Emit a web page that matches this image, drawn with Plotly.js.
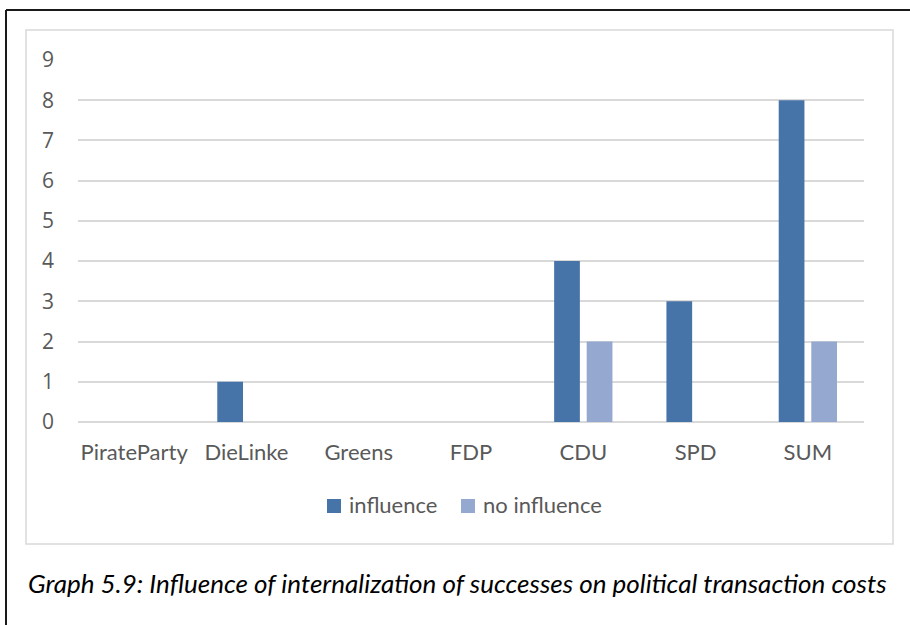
<!DOCTYPE html>
<html>
<head>
<meta charset="utf-8">
<script src="https://cdn.plot.ly/plotly-3.0.1.min.js"></script>
<style>html,body{margin:0;padding:0;background:#fff;}#chart{width:910px;height:625px;}</style>
</head>
<body>
<div id="chart"></div>
<script>
const categories = ["PirateParty", "DieLinke", "Greens", "FDP", "CDU", "SPD", "SUM"];
const influence = [0, 1, 0, 0, 4, 3, 8];
const noInfluence = [0, 0, 0, 0, 2, 0, 2];
const yTicks = [0, 1, 2, 3, 4, 5, 6, 7, 8, 9];
const seriesNames = ["influence", "no influence"];
const seriesColors = ["#4673a8", "#95a9d0"];
const caption = "Graph 5.9: Influence of internalization of successes on political transaction costs";

const W = 910, H = 625;
const L = 78, R = 864, T = 60, B = 422;
const px = x => (x - L) / (R - L);
const py = y => (B - y) / (B - T);
const FONT = "Lato, 'Open Sans', sans-serif";
const DIGITFONT = "'Open Sans', sans-serif";
const GRAY = "#595959";

const traces = [
  {type: "bar", name: seriesNames[0], x: categories, y: influence, marker: {color: seriesColors[0]}},
  {type: "bar", name: seriesNames[1], x: categories, y: noInfluence, marker: {color: seriesColors[1]}}
];

// manual legend (pixel positions of legend items)
const legendItems = [{sx: 327, tx: 347}, {sx: 461, tx: 481}];
const legendY = 505;
const legendShapes = legendItems.map((it, i) => ({
  type: "rect", xref: "paper", yref: "paper",
  x0: px(it.sx), x1: px(it.sx + 14), y0: py(legendY - 6), y1: py(legendY + 8),
  line: {width: 0}, fillcolor: seriesColors[i]
}));
const legendAnns = legendItems.map((it, i) => ({
  xref: "paper", yref: "paper", x: px(it.tx), y: py(legendY), xanchor: "left", yanchor: "middle",
  showarrow: false, text: seriesNames[i], font: {family: FONT, size: 22, color: GRAY}
}));

const layout = {
  width: W, height: H,
  margin: {l: L, r: W - R, t: T, b: H - B, pad: 0},
  paper_bgcolor: "#fff", plot_bgcolor: "#fff",
  barmode: "group", bargap: 0.42, bargroupgap: 0.21,
  font: {family: FONT, size: 22, color: GRAY},
  showlegend: false,
  xaxis: {type: "category", showgrid: false, zeroline: false, showline: false, ticks: "",
          ticklabelstandoff: 15, tickfont: {family: FONT, size: 22, color: GRAY}},
  yaxis: {range: [0, 9], tickvals: yTicks, ticktext: yTicks.map(String), showgrid: true,
          gridcolor: "#d9d9d9", gridwidth: 2, zeroline: true, zerolinecolor: "#d9d9d9", zerolinewidth: 2,
          showline: false, ticks: "", ticklabelstandoff: 23,
          tickfont: {family: DIGITFONT, size: 21, color: GRAY}},
  shapes: [
    {type: "rect", xref: "paper", yref: "paper", x0: px(26), x1: px(893), y0: py(30), y1: py(544),
     line: {color: "#d9d9d9", width: 1.5}, fillcolor: "rgba(0,0,0,0)", layer: "below"},
    {type: "line", xref: "paper", yref: "paper", x0: px(6), x1: px(912), y0: py(10), y1: py(10),
     line: {color: "#1a1a1a", width: 2}},
    {type: "line", xref: "paper", yref: "paper", x0: px(6), x1: px(6), y0: py(10), y1: py(627),
     line: {color: "#1a1a1a", width: 2}}
  ].concat(legendShapes),
  annotations: [
    {xref: "paper", yref: "paper", x: px(26), y: py(583), xanchor: "left", yanchor: "middle",
     showarrow: false, text: "<i>" + caption + "</i>",
     font: {family: FONT, size: 26, color: "#000"}}
  ].concat(legendAnns)
};

Plotly.newPlot("chart", traces, layout, {displayModeBar: false, staticPlot: true});
</script>
</body>
</html>
